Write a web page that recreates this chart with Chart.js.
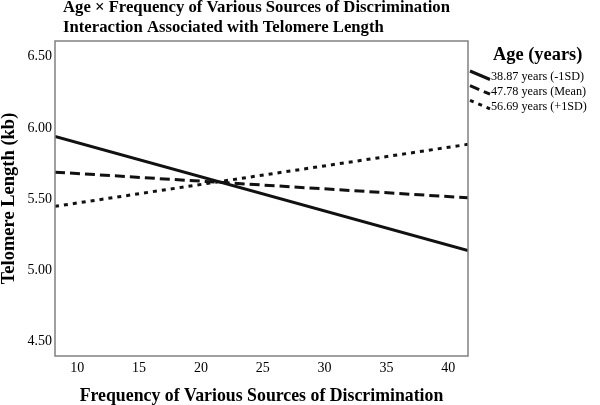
<!DOCTYPE html>
<html>
<head>
<meta charset="utf-8">
<script src="https://cdn.jsdelivr.net/npm/chart.js@4/dist/chart.umd.min.js"></script>
<style>
  html, body { margin: 0; padding: 0; background: #fff; }
</style>
</head>
<body>
<canvas id="chart" width="600" height="405"></canvas>
<script>
// Frequency of discrimination at the two ends of each simple-slope line
const frequency = [8.2, 41.6];
const ageLow = [5.94, 5.14];    // -1SD
const ageMean = [5.69, 5.51];   // mean
const ageHigh = [5.45, 5.885];  // +1SD
const seriesLabels = ['38.87 years (-1SD)', '47.78 years (Mean)', '56.69 years (+1SD)'];
const seriesDash = [[], [10, 5], [4, 5]];
const xTicks = [10, 15, 20, 25, 30, 35, 40];
const yTicks = [4.5, 5.0, 5.5, 6.0, 6.5];
const titleLines = ['Age \u00d7 Frequency of Various Sources of Discrimination', 'Interaction Associated with Telomere Length'];
const legendTitle = 'Age (years)';

const serif = "'Liberation Serif', 'Times New Roman', serif";
Chart.defaults.font.family = serif;
Chart.defaults.color = '#000';

function toPoints(ys) {
    return frequency.map((x, i) => ({ x: x, y: ys[i] }));
}

const datasets = [ageLow, ageMean, ageHigh].map((ys, i) => ({
    label: seriesLabels[i],
    data: toPoints(ys),
    borderColor: '#111',
    borderWidth: 3,
    borderDash: seriesDash[i],
    pointRadius: 0,
    fill: false
}));

// Box round the plot area, title and the age legend
const decorations = {
    id: 'decorations',
    afterDraw(chart) {
        const ctx = chart.ctx;
        const area = chart.chartArea;
        ctx.save();
        ctx.strokeStyle = '#808080';
        ctx.lineWidth = 1.5;
        ctx.strokeRect(area.left, area.top, area.right - area.left, area.bottom - area.top);

        ctx.fillStyle = '#000';
        ctx.textBaseline = 'middle';
        ctx.textAlign = 'left';
        ctx.font = 'bold 16.7px ' + serif;
        titleLines.forEach((line, i) => ctx.fillText(line, 63, 8 + i * 20));

        ctx.font = 'bold 18.4px ' + serif;
        ctx.fillText(legendTitle, 493, 55);

        ctx.font = '12.2px ' + serif;
        chart.data.datasets.forEach((ds, i) => {
            const y = 77 + i * 14.7;
            ctx.beginPath();
            ctx.setLineDash(ds.borderDash);
            ctx.lineWidth = ds.borderWidth;
            ctx.strokeStyle = ds.borderColor;
            ctx.moveTo(470, y - 6);
            ctx.lineTo(490, y + 2.5);
            ctx.stroke();
            ctx.setLineDash([]);
            ctx.fillText(ds.label, 491, y);
        });
        ctx.restore();
    }
};

new Chart(document.getElementById('chart'), {
    type: 'line',
    data: { datasets: datasets },
    options: {
        responsive: false,
        animation: false,
        layout: { padding: { top: 41, right: 132, left: 0, bottom: 0 } },
        plugins: {
            legend: { display: false },
            tooltip: { enabled: false }
        },
        scales: {
            x: {
                type: 'linear',
                min: frequency[0],
                max: frequency[1],
                afterBuildTicks: scale => { scale.ticks = xTicks.map(v => ({ value: v })); },
                afterFit: scale => { scale.height = 49; },
                grid: { display: false, drawTicks: false },
                border: { display: false },
                ticks: { padding: 4, font: { size: 14 } },
                title: {
                    display: true,
                    text: 'Frequency of Various Sources of Discrimination',
                    font: { size: 17.8, weight: 'bold', lineHeight: 1 },
                    padding: { top: 0, bottom: 0 }
                }
            },
            y: {
                min: 4.40,
                max: 6.61,
                afterBuildTicks: scale => { scale.ticks = yTicks.map(v => ({ value: v })); },
                afterFit: scale => { scale.width = 55; },
                grid: { display: false, drawTicks: false },
                border: { display: false },
                ticks: { padding: 3, font: { size: 14 }, callback: v => v.toFixed(2) },
                title: {
                    display: true,
                    text: 'Telomere Length (kb)',
                    font: { size: 18.5, weight: 'bold', lineHeight: 1 },
                    padding: { top: 0, bottom: 0 }
                }
            }
        }
    },
    plugins: [decorations]
});
</script>
</body>
</html>
